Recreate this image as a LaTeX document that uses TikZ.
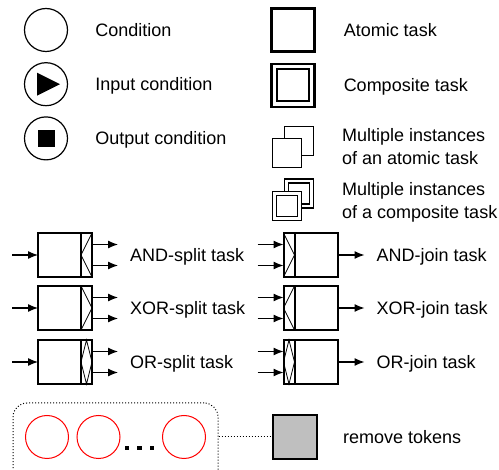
\documentclass[tikz,border=0pt]{standalone}
\usepackage{fontspec}
\setmainfont{Liberation Sans}
\usetikzlibrary{arrows.meta,positioning}

\begin{document}
\begin{tikzpicture}[
    x=1pt, y=-1pt,
    font=\fontsize{18}{23}\selectfont,
    cond/.style={draw, circle, line width=1.2pt, minimum size=43pt, inner sep=0pt},
    token/.style={draw=red, circle, line width=1pt, minimum size=43pt, inner sep=0pt},
    atomic/.style={draw, line width=2.1pt, minimum size=43pt, inner sep=0pt},
    innerbox/.style={draw, line width=2.1pt, minimum size=32pt, inner sep=0pt},
    multi/.style={draw, fill=white, line width=1.6pt, minimum size=29pt, inner sep=0pt},
    multiin/.style={draw, line width=1.6pt, minimum size=21pt, inner sep=0pt},
    mainbox/.style={draw, line width=2pt, minimum width=43pt, minimum height=44pt, inner sep=0pt, outer sep=0pt},
    barbox/.style={draw, line width=2pt, minimum width=11pt, minimum height=44pt, inner sep=0pt, outer sep=0pt},
    gate/.style={line width=0.8pt},
    flow/.style={-{Latex[length=10pt,width=8pt]}, line width=1.2pt},
    legend/.style={anchor=west, inner sep=0pt, text height=13pt, text depth=0pt},
    legendtwo/.style={anchor=north west, inner sep=0pt, align=left},
    group/.style={draw, dotted, line width=1pt, rounded corners=14pt, minimum width=205pt, minimum height=86pt},
    tokdot/.style={fill, minimum size=4.8pt, inner sep=0pt},
    remove/.style={draw, fill=gray!50, line width=1.8pt, minimum size=44pt, inner sep=0pt}
]
\useasboundingbox (0,0) rectangle (499,470);

% conditions
\node[cond] (cnd) at (46,30) {};
\node[legend, right=27pt of cnd] (cndl) {Condition};
\node[cond, below=10pt of cnd] (icnd) {};
\fill ([shift={(-9pt,11.5pt)}]icnd.center) -- ([xshift=14pt]icnd.center)
    -- ([shift={(-9pt,-11.5pt)}]icnd.center) -- cycle;
\node[legend, right=27pt of icnd] (icndl) {Input condition};
\node[cond, below=10pt of icnd] (ocnd) {};
\node[fill, minimum size=17pt, inner sep=0pt] (ocsq) at (ocnd) {};
\node[legend, right=27pt of ocnd] (ocndl) {Output condition};

% tasks
\node[atomic] (atk) at (293,30) {};
\node[legend, right=28pt of atk] (atkl) {Atomic task};
\node[atomic, below=10pt of atk] (ctk) {};
\node[innerbox] (ctki) at (ctk) {};
\node[legend, right=28pt of ctk] (ctkl) {Composite task};

% multiple instances
\node[multi] (mab) at (299,141) {};
\node[multi] (maf) at (287,153) {};
\node[legendtwo] (mal) at (342,128) {Multiple instances\\of an atomic task};
\node[multi] (mcb) at (299,193.5) {};
\node[multiin] (mcbi) at (mcb) {};
\node[multi] (mcf) at (287,206) {};
\node[multiin] (mcfi) at (mcf) {};
\node[legendtwo] (mcl) at (342,182) {Multiple instances\\of a composite task};

% split tasks
\node[mainbox] (ands) at (59.5,255) {};
\node[barbox, right=0pt of ands] (andsg) {};
\draw[gate] (andsg.north east) -- (andsg.west) -- (andsg.south east);
\node[mainbox] (xors) at (59.5,308) {};
\node[barbox, right=0pt of xors] (xorsg) {};
\draw[gate] (xorsg.north west) -- (xorsg.east) -- (xorsg.south west);
\node[mainbox] (ors) at (59.5,362) {};
\node[barbox, right=0pt of ors] (orsg) {};
\draw[gate] (orsg.north) -- (orsg.east) -- (orsg.south) -- (orsg.west) -- cycle;

\foreach \t in {ands,xors,ors} {
    \coordinate (\t in) at (12,0 |- \t.west);
    \draw[flow] (\t in) -- (\t.west);
    \coordinate[right=26pt of \t g.east] (\t out);
    \draw[flow] ([yshift=10.5pt]\t g.east) -- ([yshift=10.5pt]\t out);
    \draw[flow] ([yshift=-10.5pt]\t g.east) -- ([yshift=-10.5pt]\t out);
}
\node[legend, right=38pt of andsg] (andsl) {AND-split task};
\node[legend, right=38pt of xorsg] (xorsl) {XOR-split task};
\node[legend, right=38pt of orsg] (orsl) {OR-split task};

% join tasks
\node[barbox] (andjg) at (289,255) {};
\node[mainbox, right=0pt of andjg] (andj) {};
\draw[gate] (andjg.north west) -- (andjg.east) -- (andjg.south west);
\node[barbox] (xorjg) at (289,308) {};
\node[mainbox, right=0pt of xorjg] (xorj) {};
\draw[gate] (xorjg.north east) -- (xorjg.west) -- (xorjg.south east);
\node[barbox] (orjg) at (289,362) {};
\node[mainbox, right=0pt of orjg] (orj) {};
\draw[gate] (orjg.north) -- (orjg.east) -- (orjg.south) -- (orjg.west) -- cycle;

\foreach \t in {andj,xorj,orj} {
    \coordinate[left=26pt of \t g.west] (\t in);
    \draw[flow] ([yshift=10.5pt]\t in) -- ([yshift=10.5pt]\t g.west);
    \draw[flow] ([yshift=-10.5pt]\t in) -- ([yshift=-10.5pt]\t g.west);
    \coordinate[right=27pt of \t.east] (\t out);
    \draw[flow] (\t.east) -- (\t out);
}
\node[legend, right=39pt of andj] (andjl) {AND-join task};
\node[legend, right=39pt of xorj] (xorjl) {XOR-join task};
\node[legend, right=39pt of orj] (orjl) {OR-join task};

% remove tokens
\node[group] (grp) at (115.5,446) {};
\node[token] (tk1) at (47,437) {};
\node[token] (tk2) at (98.5,437) {};
\node[token] (tk3) at (184,437) {};
\foreach \x [count=\i] in {127,139.5,152}
    \node[tokdot] (dot\i) at (\x,448) {};
\node[remove] (rmv) at (295,437) {};
\draw[dotted, line width=1pt] (grp.east |- rmv.west) -- (rmv.west);
\node[legend, right=25pt of rmv] (rmvl) {remove tokens};
\end{tikzpicture}
\end{document}
